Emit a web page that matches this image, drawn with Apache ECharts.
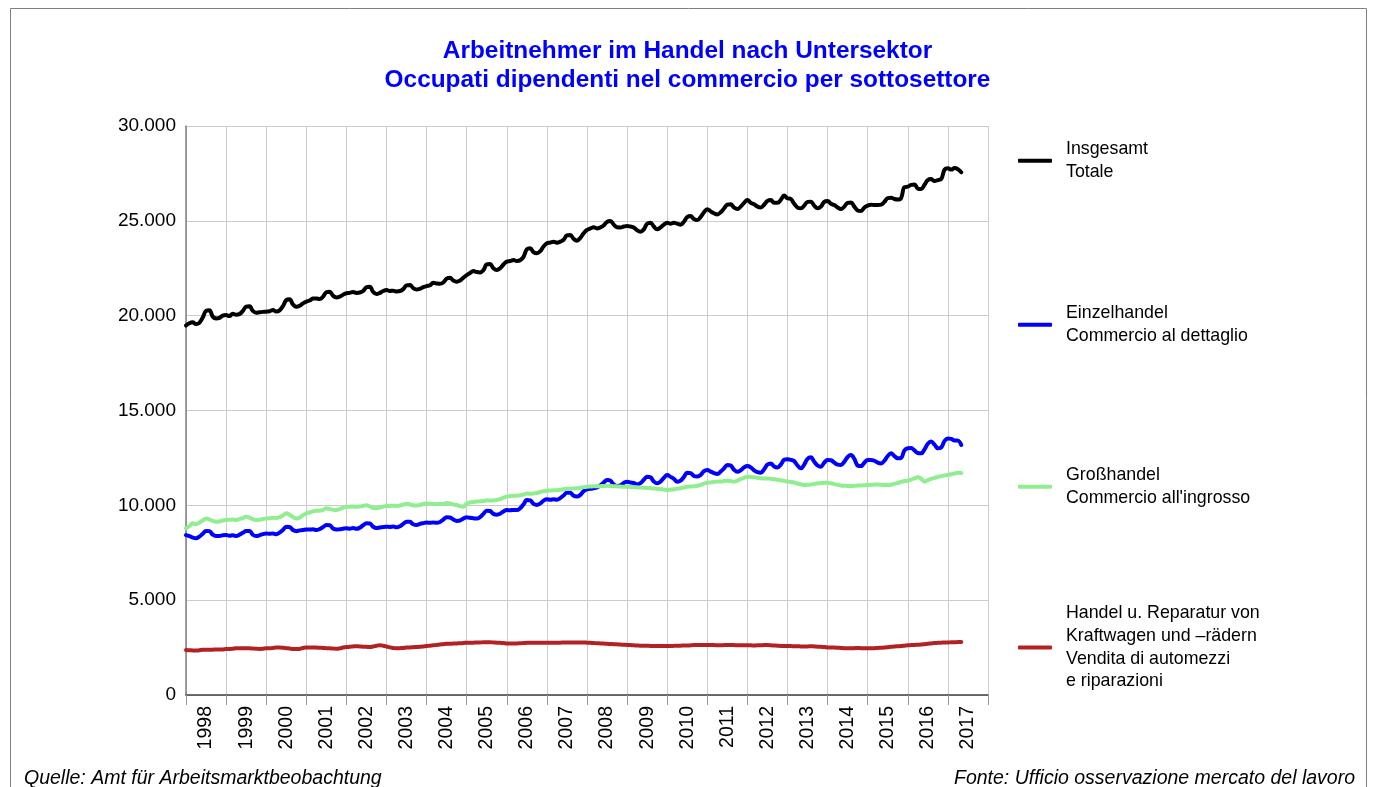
<!DOCTYPE html>
<html>
<head>
<meta charset="utf-8">
<script src="https://cdn.jsdelivr.net/npm/echarts@6/dist/echarts.min.js"></script>
<style>
  html, body { margin: 0; padding: 0; background: #fff; }
  #chart { width: 1375px; height: 787px; }
</style>
</head>
<body>
<div id="chart"></div>
<script>
// monthly values, Jan 1998 - May 2017
let years = ['1998', '1999', '2000', '2001', '2002', '2003', '2004', '2005', '2006', '2007',
    '2008', '2009', '2010', '2011', '2012', '2013', '2014', '2015', '2016', '2017'];

let seriesNames = [
    'Insgesamt\nTotale',
    'Einzelhandel\nCommercio al dettaglio',
    'Großhandel\nCommercio all\'ingrosso',
    'Handel u. Reparatur von\nKraftwagen und \u2013rädern\nVendita di automezzi\ne riparazioni'
];

let totale = [
    19480, 19600, 19650, 19560, 19620, 19900, 20250, 20280, 19950, 19850, 19880, 20000,
    20030, 19980, 20100, 20050, 20080, 20250, 20480, 20500, 20250, 20150, 20180, 20200,
    20210, 20230, 20300, 20220, 20280, 20500, 20820, 20860, 20600, 20470, 20520, 20650,
    20740, 20800, 20900, 20910, 20880, 21000, 21230, 21260, 21050, 20960, 21000, 21100,
    21180, 21200, 21250, 21200, 21220, 21300, 21500, 21530, 21250, 21140, 21200, 21300,
    21350, 21300, 21320, 21280, 21300, 21400, 21600, 21620, 21450, 21380, 21420, 21500,
    21560, 21600, 21740, 21700, 21680, 21750, 21950, 22000, 21850, 21790, 21850, 22000,
    22140, 22250, 22350, 22300, 22280, 22400, 22700, 22720, 22500, 22410, 22500, 22700,
    22850, 22880, 22930, 22880, 22920, 23100, 23500, 23550, 23350, 23290, 23400, 23650,
    23820, 23850, 23900, 23850, 23900, 24000, 24230, 24250, 24050, 23950, 24100, 24350,
    24520, 24600, 24660, 24600, 24650, 24750, 24950, 24990, 24800, 24660, 24650, 24700,
    24730, 24700, 24650, 24500, 24430, 24550, 24850, 24900, 24700, 24550, 24650, 24800,
    24900, 24850, 24900, 24850, 24800, 24950, 25200, 25250, 25100, 25040, 25200, 25450,
    25610, 25500, 25400, 25340, 25450, 25650, 25850, 25870, 25700, 25620, 25750, 25950,
    26100, 25950, 25870, 25750, 25700, 25850, 26050, 26100, 25950, 25950, 26100, 26330,
    26190, 26150, 25900, 25700, 25660, 25800, 26000, 26010, 25800, 25660, 25750, 26000,
    26050, 25900, 25830, 25700, 25620, 25750, 25950, 25970, 25750, 25550, 25520, 25700,
    25800, 25850, 25830, 25830, 25850, 26000, 26200, 26220, 26150, 26120, 26200, 26780,
    26800, 26900, 26920, 26700, 26680, 26900, 27150, 27200, 27100, 27150, 27200, 27700,
    27770, 27700, 27780, 27720, 27560
];

let dettaglio = [
    8430, 8380, 8300, 8260, 8350, 8500, 8650, 8640, 8450, 8380, 8380, 8420,
    8430, 8400, 8420, 8380, 8450, 8550, 8650, 8650, 8450, 8380, 8420, 8480,
    8520, 8500, 8520, 8480, 8560, 8700, 8870, 8860, 8700, 8640, 8680, 8700,
    8730, 8720, 8740, 8700, 8750, 8850, 8960, 8950, 8780, 8720, 8740, 8770,
    8790, 8770, 8800, 8760, 8820, 8950, 9050, 9040, 8870, 8800, 8830, 8860,
    8870, 8860, 8880, 8840, 8900, 9020, 9140, 9130, 9000, 8960, 9020, 9060,
    9090, 9080, 9100, 9080, 9120, 9250, 9370, 9360, 9250, 9180, 9200, 9300,
    9370, 9340, 9320, 9300, 9380, 9550, 9720, 9700, 9550, 9510, 9560, 9680,
    9750, 9740, 9760, 9750, 9850, 10050, 10280, 10260, 10080, 10020, 10100, 10250,
    10320, 10300, 10320, 10300, 10380, 10520, 10670, 10660, 10500, 10460, 10550, 10750,
    10850, 10870, 10900, 10950, 11050, 11200, 11340, 11300, 11100, 11020, 11050, 11180,
    11250, 11200, 11180, 11100, 11170, 11350, 11510, 11480, 11260, 11160, 11250, 11450,
    11600, 11500, 11400, 11250, 11300, 11500, 11720, 11700, 11550, 11520, 11600, 11800,
    11860, 11780, 11700, 11650, 11780, 11950, 12130, 12100, 11880, 11770, 11850, 12000,
    12070, 12000, 11850, 11750, 11720, 11900, 12150, 12210, 12050, 12000, 12150, 12400,
    12430, 12400, 12330, 12100, 11950, 12150, 12450, 12530, 12300, 12100, 12040, 12250,
    12390, 12380, 12250, 12150, 12130, 12300, 12550, 12650, 12450, 12100, 12070, 12250,
    12390, 12390, 12350, 12250, 12210, 12350, 12600, 12740, 12600, 12480, 12500, 12900,
    13010, 13020, 12900, 12760, 12740, 12950, 13250, 13360, 13200, 13010, 13050, 13400,
    13530, 13500, 13420, 13410, 13180
];

let ingrosso = [
    8790, 8900, 9050, 9000, 9100, 9200, 9310, 9250, 9180, 9140, 9150, 9200,
    9230, 9240, 9250, 9230, 9270, 9330, 9400, 9350, 9260, 9220, 9240, 9280,
    9310, 9320, 9350, 9330, 9380, 9470, 9580, 9500, 9380, 9310, 9350, 9480,
    9580, 9620, 9680, 9720, 9720, 9760, 9840, 9800, 9760, 9750, 9800, 9880,
    9930, 9930, 9940, 9920, 9940, 9970, 10000, 9950, 9860, 9850, 9880, 9930,
    9960, 9970, 9980, 9970, 9990, 10030, 10080, 10050, 10000, 9990, 10020, 10070,
    10100, 10080, 10070, 10060, 10070, 10090, 10120, 10100, 10050, 10020, 9960, 9930,
    10100, 10150, 10180, 10200, 10210, 10230, 10260, 10250, 10260, 10280, 10330, 10400,
    10460, 10480, 10500, 10510, 10530, 10570, 10620, 10610, 10620, 10650, 10700, 10740,
    10770, 10780, 10790, 10800, 10820, 10850, 10880, 10880, 10890, 10900, 10930, 10960,
    10980, 10990, 11000, 11000, 11010, 11020, 11030, 11020, 11010, 11000, 10990, 10980,
    10980, 10970, 10960, 10950, 10940, 10930, 10920, 10900, 10890, 10880, 10860, 10830,
    10810, 10830, 10850, 10880, 10900, 10940, 10980, 10990, 11000, 11030, 11080, 11140,
    11190, 11210, 11230, 11250, 11260, 11280, 11300, 11280, 11250, 11300, 11380, 11450,
    11510, 11500, 11480, 11450, 11430, 11420, 11420, 11400, 11380, 11350, 11320, 11290,
    11250, 11230, 11200, 11150, 11110, 11070, 11080, 11100, 11130, 11160, 11180, 11190,
    11190, 11160, 11120, 11080, 11050, 11030, 11020, 11020, 11030, 11040, 11050, 11060,
    11070, 11080, 11090, 11100, 11080, 11070, 11070, 11090, 11130, 11180, 11230, 11280,
    11300, 11360, 11420, 11480, 11400, 11250, 11330, 11400, 11450, 11500, 11540, 11580,
    11600, 11640, 11680, 11720, 11700
];

let automezzi = [
    2370, 2360, 2350, 2340, 2360, 2380, 2390, 2380, 2390, 2400, 2400, 2400,
    2420, 2420, 2440, 2460, 2470, 2470, 2460, 2460, 2450, 2440, 2430, 2440,
    2460, 2460, 2480, 2500, 2500, 2490, 2470, 2450, 2430, 2420, 2430, 2480,
    2510, 2510, 2510, 2500, 2490, 2480, 2470, 2460, 2450, 2440, 2460, 2500,
    2530, 2550, 2560, 2570, 2560, 2550, 2540, 2530, 2560, 2600, 2620, 2600,
    2560, 2510, 2480, 2460, 2470, 2480, 2500, 2510, 2520, 2530, 2540, 2560,
    2580, 2600, 2620, 2640, 2660, 2680, 2700, 2700, 2710, 2720, 2730, 2740,
    2760, 2760, 2760, 2770, 2770, 2780, 2780, 2780, 2770, 2760, 2750, 2740,
    2720, 2720, 2720, 2720, 2730, 2740, 2750, 2750, 2750, 2750, 2760, 2760,
    2760, 2760, 2760, 2760, 2760, 2770, 2770, 2770, 2770, 2770, 2770, 2770,
    2760, 2750, 2740, 2730, 2720, 2710, 2700, 2690, 2680, 2670, 2660, 2650,
    2640, 2630, 2620, 2610, 2600, 2600, 2600, 2590, 2590, 2580, 2580, 2580,
    2580, 2580, 2590, 2600, 2600, 2610, 2610, 2620, 2630, 2630, 2640, 2640,
    2640, 2630, 2630, 2620, 2620, 2630, 2640, 2640, 2630, 2620, 2620, 2620,
    2620, 2620, 2610, 2620, 2620, 2630, 2630, 2620, 2610, 2600, 2590, 2590,
    2580, 2580, 2570, 2570, 2560, 2560, 2560, 2570, 2560, 2550, 2540, 2530,
    2510, 2500, 2500, 2490, 2480, 2470, 2460, 2460, 2470, 2480, 2470, 2460,
    2460, 2460, 2470, 2480, 2490, 2500, 2520, 2540, 2560, 2570, 2580, 2600,
    2620, 2630, 2640, 2650, 2660, 2680, 2700, 2720, 2740, 2750, 2760, 2770,
    2770, 2780, 2780, 2790, 2790
];

let colors = ['#000000', '#0000ff', '#90ee90', '#b22222'];
let legendTops = [138, 302, 464, 602];

let myChart = echarts.init(document.getElementById('chart'));
let font = '"Liberation Sans", Arial, sans-serif';

function toPairs(arr) {
    return arr.map(function (v, i) { return [i, v]; });
}

function dotted(v) {
    return String(v).replace(/\B(?=(\d{3})+(?!\d))/g, '.');
}

let allValues = [totale, dettaglio, ingrosso, automezzi];

let series = allValues.map(function (arr, k) {
    return {
        name: seriesNames[k],
        type: 'line',
        xAxisIndex: 0,
        smooth: 0.4,
        symbol: 'none',
        lineStyle: { color: colors[k], width: 4, cap: 'round', join: 'round' },
        itemStyle: { color: colors[k] },
        data: toPairs(arr)
    };
});

let legends = seriesNames.map(function (name, k) {
    return {
        orient: 'vertical',
        left: 1018,
        top: legendTops[k],
        padding: 0,
        selectedMode: false,
        icon: 'roundRect',
        itemWidth: 34,
        itemHeight: 4,
        data: [name],
        textStyle: {
            fontFamily: font,
            fontSize: 17.8,
            lineHeight: 22.7,
            color: '#000',
            padding: [0, 0, 0, 9],
            width: 206,
            overflow: 'truncate',
            ellipsis: ''
        }
    };
});

let option = {
    animation: false,
    backgroundColor: '#fff',
    color: colors,
    title: [
        {
            text: 'Arbeitnehmer im Handel nach Untersektor\nOccupati dipendenti nel commercio per sottosettore',
            left: 'center',
            top: 37,
            padding: 0,
            textStyle: {
                fontFamily: font,
                fontSize: 24.4,
                fontWeight: 'bold',
                lineHeight: 29,
                color: '#0000ff'
            }
        },
        {
            text: 'Quelle: Amt für Arbeitsmarktbeobachtung',
            left: 24,
            top: 769,
            padding: 0,
            textStyle: { fontFamily: font, fontSize: 19.5, fontStyle: 'italic', fontWeight: 'normal', color: '#000' }
        },
        {
            text: 'Fonte: Ufficio osservazione mercato del lavoro',
            right: 20,
            top: 769,
            padding: 0,
            textStyle: { fontFamily: font, fontSize: 19.5, fontStyle: 'italic', fontWeight: 'normal', color: '#000' }
        }
    ],
    legend: legends,
    grid: {
        left: 186,
        right: 387,
        top: 126,
        bottom: 92,
        containLabel: false
    },
    xAxis: [
        {
            type: 'value',
            min: 0,
            max: 240,
            show: false
        },
        {
            type: 'category',
            data: years,
            position: 'bottom',
            boundaryGap: true,
            axisLine: { show: true, lineStyle: { color: '#404040', width: 1.5 } },
            axisTick: { show: true, interval: 0, length: 10, lineStyle: { color: '#999' } },
            axisLabel: {
                interval: 0,
                rotate: 90,
                margin: 11,
                fontFamily: font,
                fontSize: 19.5,
                color: '#000'
            },
            splitLine: { show: true, interval: 0, lineStyle: { color: '#cccccc', width: 1 } }
        }
    ],
    yAxis: {
        type: 'value',
        min: 0,
        max: 30000,
        interval: 5000,
        axisLine: { show: true, lineStyle: { color: '#808080', width: 1.5 } },
        axisTick: { show: false },
        axisLabel: {
            margin: 10,
            fontFamily: font,
            fontSize: 19,
            color: '#000',
            formatter: dotted
        },
        splitLine: { show: true, lineStyle: { color: '#cccccc', width: 1 } }
    },
    graphic: [
        {
            type: 'rect',
            shape: { x: 10.5, y: 8.5, width: 1356, height: 800 },
            style: { fill: 'none', stroke: '#7f7f7f', lineWidth: 1 },
            silent: true
        }
    ],
    series: series
};

myChart.setOption(option);
</script>
</body>
</html>
